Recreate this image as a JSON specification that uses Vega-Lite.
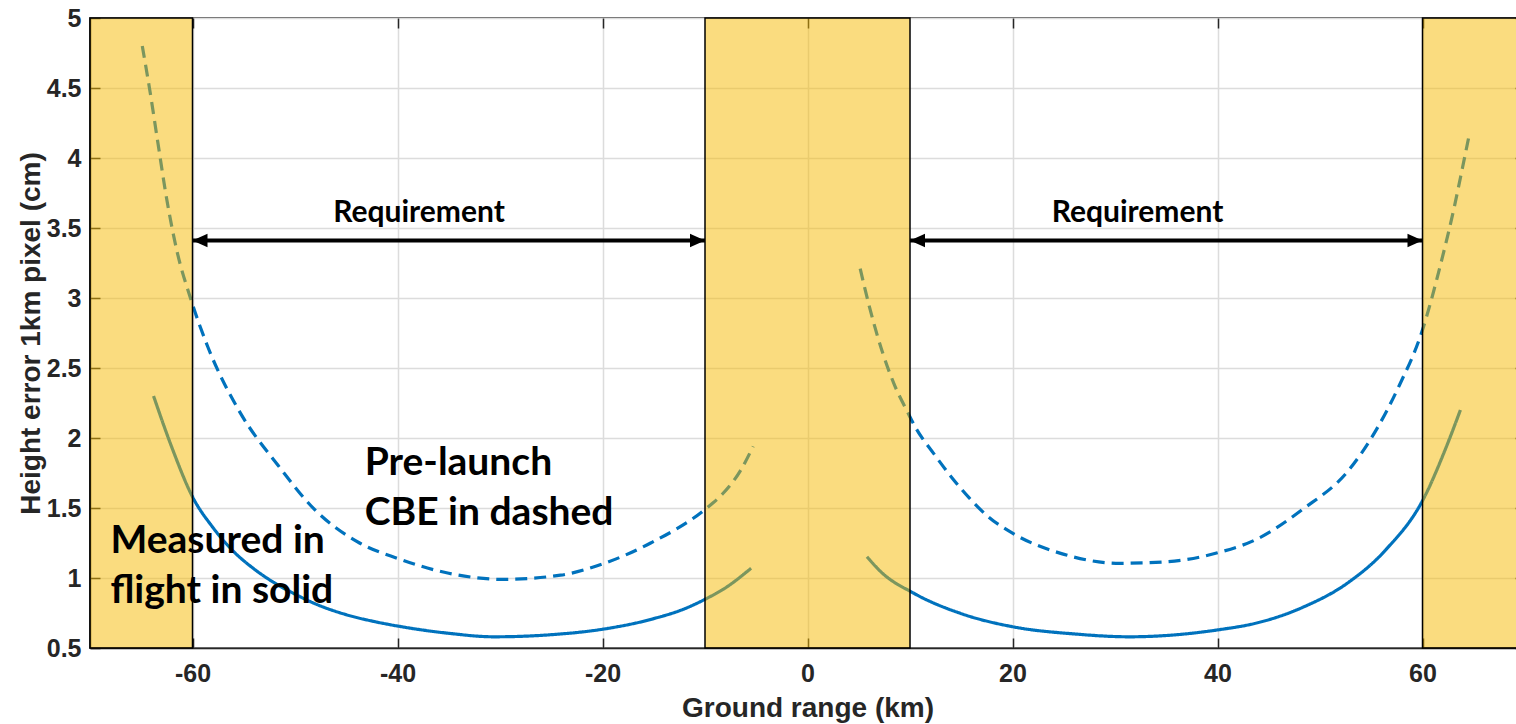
{
  "$schema": "https://vega.github.io/schema/vega-lite/v6.json",
  "width": 1435,
  "height": 630,
  "autosize": {"type": "none"},
  "padding": {"left": 90, "top": 18, "right": 0, "bottom": 76},
  "background": "white",
  "config": {
    "view": {"stroke": "#262626", "strokeWidth": 1.5},
    "axis": {
      "labelFont": "Liberation Sans",
      "labelFontWeight": "bold",
      "labelFontSize": 25,
      "labelColor": "#262626",
      "titleFont": "Liberation Sans",
      "titleFontWeight": "bold",
      "titleFontSize": 28,
      "titleColor": "#262626",
      "domainColor": "#262626",
      "domainWidth": 1.5,
      "tickColor": "#262626",
      "tickWidth": 1.5,
      "gridColor": "#dcdcdc",
      "gridWidth": 1.5
    }
  },
  "datasets": {
    "curves": [
      {"series": "measured_left", "style": "solid", "x": -63.8, "y": 2.3},
      {"series": "measured_left", "style": "solid", "x": -62, "y": 1.93},
      {"series": "measured_left", "style": "solid", "x": -60, "y": 1.58},
      {"series": "measured_left", "style": "solid", "x": -58, "y": 1.36},
      {"series": "measured_left", "style": "solid", "x": -56, "y": 1.19},
      {"series": "measured_left", "style": "solid", "x": -54, "y": 1.065},
      {"series": "measured_left", "style": "solid", "x": -52, "y": 0.965},
      {"series": "measured_left", "style": "solid", "x": -50, "y": 0.885},
      {"series": "measured_left", "style": "solid", "x": -48, "y": 0.815},
      {"series": "measured_left", "style": "solid", "x": -45, "y": 0.738},
      {"series": "measured_left", "style": "solid", "x": -42, "y": 0.685},
      {"series": "measured_left", "style": "solid", "x": -40, "y": 0.657},
      {"series": "measured_left", "style": "solid", "x": -35, "y": 0.605},
      {"series": "measured_left", "style": "solid", "x": -30.6, "y": 0.58},
      {"series": "measured_left", "style": "solid", "x": -25, "y": 0.595},
      {"series": "measured_left", "style": "solid", "x": -20, "y": 0.634},
      {"series": "measured_left", "style": "solid", "x": -15, "y": 0.71},
      {"series": "measured_left", "style": "solid", "x": -12, "y": 0.78},
      {"series": "measured_left", "style": "solid", "x": -10, "y": 0.848},
      {"series": "measured_left", "style": "solid", "x": -8, "y": 0.93},
      {"series": "measured_left", "style": "solid", "x": -5.5, "y": 1.07},
      {"series": "cbe_left", "style": "dashed", "x": -64.9, "y": 4.8},
      {"series": "cbe_left", "style": "dashed", "x": -64.2, "y": 4.5},
      {"series": "cbe_left", "style": "dashed", "x": -63.4, "y": 4.12},
      {"series": "cbe_left", "style": "dashed", "x": -62.5, "y": 3.7},
      {"series": "cbe_left", "style": "dashed", "x": -61.5, "y": 3.33},
      {"series": "cbe_left", "style": "dashed", "x": -60.2, "y": 3.0},
      {"series": "cbe_left", "style": "dashed", "x": -58.5, "y": 2.65},
      {"series": "cbe_left", "style": "dashed", "x": -55.5, "y": 2.2},
      {"series": "cbe_left", "style": "dashed", "x": -51.6, "y": 1.8},
      {"series": "cbe_left", "style": "dashed", "x": -48.1, "y": 1.49},
      {"series": "cbe_left", "style": "dashed", "x": -43.7, "y": 1.25},
      {"series": "cbe_left", "style": "dashed", "x": -40, "y": 1.14},
      {"series": "cbe_left", "style": "dashed", "x": -35, "y": 1.034},
      {"series": "cbe_left", "style": "dashed", "x": -29.7, "y": 0.99},
      {"series": "cbe_left", "style": "dashed", "x": -24.1, "y": 1.02},
      {"series": "cbe_left", "style": "dashed", "x": -20, "y": 1.1},
      {"series": "cbe_left", "style": "dashed", "x": -15.3, "y": 1.25},
      {"series": "cbe_left", "style": "dashed", "x": -10, "y": 1.49},
      {"series": "cbe_left", "style": "dashed", "x": -8.3, "y": 1.6},
      {"series": "cbe_left", "style": "dashed", "x": -6.6, "y": 1.76},
      {"series": "cbe_left", "style": "dashed", "x": -5.3, "y": 1.94},
      {"series": "cbe_right", "style": "dashed", "x": 5.14, "y": 3.21},
      {"series": "cbe_right", "style": "dashed", "x": 6.03, "y": 2.94},
      {"series": "cbe_right", "style": "dashed", "x": 7.37, "y": 2.6},
      {"series": "cbe_right", "style": "dashed", "x": 8.48, "y": 2.38},
      {"series": "cbe_right", "style": "dashed", "x": 9.8, "y": 2.18},
      {"series": "cbe_right", "style": "dashed", "x": 10.5, "y": 2.08},
      {"series": "cbe_right", "style": "dashed", "x": 12.3, "y": 1.89},
      {"series": "cbe_right", "style": "dashed", "x": 14.05, "y": 1.72},
      {"series": "cbe_right", "style": "dashed", "x": 15.8, "y": 1.57},
      {"series": "cbe_right", "style": "dashed", "x": 17.6, "y": 1.44},
      {"series": "cbe_right", "style": "dashed", "x": 20, "y": 1.32},
      {"series": "cbe_right", "style": "dashed", "x": 24.7, "y": 1.176},
      {"series": "cbe_right", "style": "dashed", "x": 30.5, "y": 1.105},
      {"series": "cbe_right", "style": "dashed", "x": 35, "y": 1.116},
      {"series": "cbe_right", "style": "dashed", "x": 40, "y": 1.18},
      {"series": "cbe_right", "style": "dashed", "x": 43.9, "y": 1.28},
      {"series": "cbe_right", "style": "dashed", "x": 48.3, "y": 1.49},
      {"series": "cbe_right", "style": "dashed", "x": 52.8, "y": 1.77},
      {"series": "cbe_right", "style": "dashed", "x": 55.5, "y": 2.06},
      {"series": "cbe_right", "style": "dashed", "x": 57.7, "y": 2.37},
      {"series": "cbe_right", "style": "dashed", "x": 59.9, "y": 2.75},
      {"series": "cbe_right", "style": "dashed", "x": 61.8, "y": 3.25},
      {"series": "cbe_right", "style": "dashed", "x": 63.1, "y": 3.65},
      {"series": "cbe_right", "style": "dashed", "x": 63.9, "y": 3.93},
      {"series": "cbe_right", "style": "dashed", "x": 64.6, "y": 4.18},
      {"series": "measured_right", "style": "solid", "x": 5.8, "y": 1.152},
      {"series": "measured_right", "style": "solid", "x": 7.15, "y": 1.045},
      {"series": "measured_right", "style": "solid", "x": 10.4, "y": 0.89},
      {"series": "measured_right", "style": "solid", "x": 14.9, "y": 0.748},
      {"series": "measured_right", "style": "solid", "x": 20, "y": 0.652},
      {"series": "measured_right", "style": "solid", "x": 26.1, "y": 0.6},
      {"series": "measured_right", "style": "solid", "x": 31.4, "y": 0.58},
      {"series": "measured_right", "style": "solid", "x": 40, "y": 0.629},
      {"series": "measured_right", "style": "solid", "x": 43.9, "y": 0.68},
      {"series": "measured_right", "style": "solid", "x": 48.3, "y": 0.79},
      {"series": "measured_right", "style": "solid", "x": 52.8, "y": 0.97},
      {"series": "measured_right", "style": "solid", "x": 56.4, "y": 1.2},
      {"series": "measured_right", "style": "solid", "x": 60.2, "y": 1.58},
      {"series": "measured_right", "style": "solid", "x": 62.2, "y": 1.914},
      {"series": "measured_right", "style": "solid", "x": 63.7, "y": 2.2}
    ],
    "boxes": [
      {"x0": -70, "x1": -60},
      {"x0": -10, "x1": 10},
      {"x0": 60, "x1": 70}
    ],
    "arrows": [
      {"x0": -60, "x1": -10, "y": 3.41},
      {"x0": 10, "x1": 60, "y": 3.41}
    ],
    "heads": [
      {"x": -60, "y": 3.41, "dir": "left"},
      {"x": -10, "y": 3.41, "dir": "right"},
      {"x": 10, "y": 3.41, "dir": "left"},
      {"x": 60, "y": 3.41, "dir": "right"}
    ],
    "small": [
      {"x": -37.9, "y": 3.545, "label": "Requirement"},
      {"x": 32.2, "y": 3.545, "label": "Requirement"}
    ],
    "big": [
      {"x": -43.2, "y": 1.736, "label": "Pre-launch"},
      {"x": -43.2, "y": 1.379, "label": "CBE in dashed"},
      {"x": -68, "y": 1.176, "label": "Measured in"},
      {"x": -68, "y": 0.819, "label": "flight in solid"}
    ]
  },
  "resolve": {"axis": {"x": "independent", "y": "independent"}},
  "layer": [
    {
      "data": {"name": "curves"},
      "mark": {"type": "line", "strokeWidth": 3.2, "interpolate": "monotone", "color": "#0072BD"},
      "encoding": {
        "x": {
          "field": "x", "type": "quantitative",
          "scale": {"domain": [-70, 70], "nice": false, "zero": false},
          "axis": {"orient": "bottom", "values": [-60, -40, -20, 0, 20, 40, 60], "labelExpr": "'' + datum.value", "grid": true, "ticks": false, "tickSize": 0, "labelPadding": 13, "title": "Ground range (km)", "titlePadding": 8}
        },
        "y": {
          "field": "y", "type": "quantitative",
          "scale": {"domain": [0.5, 5], "nice": false, "zero": false},
          "axis": {"orient": "left", "values": [0.5, 1, 1.5, 2, 2.5, 3, 3.5, 4, 4.5, 5], "labelExpr": "'' + datum.value", "grid": true, "ticks": false, "tickSize": 0, "labelPadding": 9, "title": "Height error 1km pixel (cm)", "titlePadding": 1}
        },
        "detail": {"field": "series"},
        "strokeDash": {
          "field": "style", "type": "nominal",
          "scale": {"domain": ["solid", "dashed"], "range": [[1, 0], [12, 7]]},
          "legend": null
        }
      }
    },
    {
      "data": {"name": "boxes"},
      "mark": {"type": "rect", "fill": "#F6B900", "fillOpacity": 0.5, "stroke": "#000000", "strokeWidth": 1.5},
      "encoding": {
        "x": {"field": "x0", "type": "quantitative", "axis": {"orient": "top", "offset": -10, "values": [-60, -40, -20, 0, 20, 40, 60], "labels": false, "grid": false, "domain": false, "ticks": true, "tickSize": 10, "title": null}},
        "x2": {"field": "x1"}
      }
    },
    {
      "data": {"name": "arrows"},
      "mark": {"type": "rule", "strokeWidth": 4, "color": "#000000"},
      "encoding": {
        "x": {"field": "x0", "type": "quantitative", "axis": {"orient": "bottom", "offset": -10, "values": [-60, -40, -20, 0, 20, 40, 60], "labels": false, "grid": false, "domain": false, "ticks": true, "tickSize": 10, "title": null}},
        "x2": {"field": "x1"},
        "y": {"field": "y", "type": "quantitative", "axis": {"orient": "right", "offset": -10, "values": [0.5, 1, 1.5, 2, 2.5, 3, 3.5, 4, 4.5, 5], "labels": false, "grid": false, "domain": false, "ticks": true, "tickSize": 10, "title": null}}
      }
    },
    {
      "data": {"name": "heads"},
      "mark": {"type": "point", "filled": true, "opacity": 1, "color": "#000000", "size": 900, "strokeWidth": 0},
      "encoding": {
        "x": {"field": "x", "type": "quantitative", "axis": null},
        "y": {"field": "y", "type": "quantitative", "axis": {"orient": "left", "offset": -10, "values": [0.5, 1, 1.5, 2, 2.5, 3, 3.5, 4, 4.5, 5], "labels": false, "grid": false, "domain": false, "ticks": true, "tickSize": 10, "title": null}},
        "shape": {
          "field": "dir", "type": "nominal",
          "scale": {"domain": ["left", "right"], "range": ["M0,0L1,-0.45L1,0.45Z", "M0,0L-1,-0.45L-1,0.45Z"]},
          "legend": null
        }
      }
    },
    {
      "data": {"name": "small"},
      "mark": {"type": "text", "font": "Lato", "fontWeight": "bold", "fontSize": 30, "color": "#000000", "align": "center", "baseline": "alphabetic"},
      "encoding": {
        "x": {"field": "x", "type": "quantitative", "axis": null},
        "y": {"field": "y", "type": "quantitative", "axis": null},
        "text": {"field": "label"}
      }
    },
    {
      "data": {"name": "big"},
      "mark": {"type": "text", "font": "Lato", "fontWeight": "bold", "fontSize": 39, "color": "#000000", "align": "left", "baseline": "alphabetic"},
      "encoding": {
        "x": {"field": "x", "type": "quantitative", "axis": null},
        "y": {"field": "y", "type": "quantitative", "axis": null},
        "text": {"field": "label"}
      }
    }
  ]
}
